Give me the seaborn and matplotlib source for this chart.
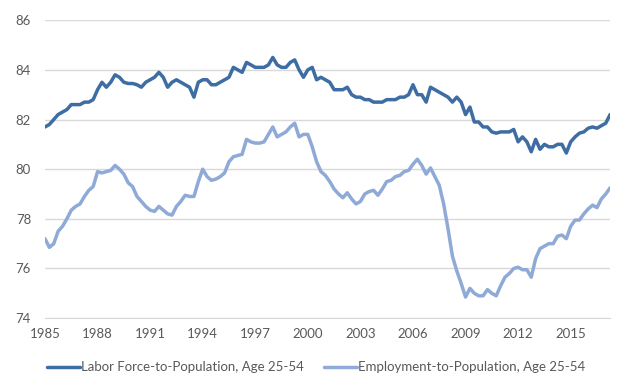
import pandas as pd
import numpy as np
import seaborn as sns
import matplotlib.pyplot as plt

# Quarterly readings, 1985Q1 .. 2017Q2
lfpr = [81.7, 81.8, 82.0, 82.2,
        82.3, 82.4, 82.6, 82.6,
        82.6, 82.7, 82.7, 82.8,
        83.2, 83.5, 83.3, 83.5,
        83.8, 83.7, 83.5, 83.45,
        83.45, 83.4, 83.3, 83.5,
        83.6, 83.7, 83.9, 83.7,
        83.3, 83.5, 83.6, 83.5,
        83.4, 83.3, 82.9, 83.5,
        83.6, 83.6, 83.4, 83.4,
        83.5, 83.6, 83.7, 84.1,
        84.0, 83.9, 84.3, 84.2,
        84.1, 84.1, 84.1, 84.2,
        84.5, 84.2, 84.1, 84.1,
        84.3, 84.4, 84.0, 83.7,
        84.0, 84.1, 83.6, 83.7,
        83.6, 83.5, 83.2, 83.2,
        83.2, 83.3, 83.0, 82.9,
        82.9, 82.8, 82.8, 82.7,
        82.7, 82.7, 82.8, 82.8,
        82.8, 82.9, 82.9, 83.0,
        83.4, 83.0, 83.0, 82.7,
        83.3, 83.2, 83.1, 83.0,
        82.9, 82.7, 82.9, 82.7,
        82.2, 82.5, 81.9, 81.9,
        81.7, 81.7, 81.5, 81.45,
        81.5, 81.5, 81.5, 81.6,
        81.1, 81.3, 81.1, 80.7,
        81.2, 80.8, 81.0, 80.9,
        80.9, 81.0, 81.0, 80.65,
        81.1, 81.3, 81.45, 81.5,
        81.65, 81.7, 81.65, 81.75,
        81.85, 82.2]

epop = [77.2, 76.85, 77.0, 77.5,
        77.7, 78.0, 78.35, 78.5,
        78.6, 78.9, 79.15, 79.3,
        79.9, 79.85, 79.9, 79.95,
        80.15, 80.0, 79.8, 79.45,
        79.3, 78.9, 78.7, 78.5,
        78.35, 78.3, 78.5, 78.35,
        78.2, 78.15, 78.5, 78.7,
        78.95, 78.9, 78.9, 79.5,
        80.0, 79.7, 79.55, 79.6,
        79.7, 79.85, 80.3, 80.5,
        80.55, 80.6, 81.2, 81.1,
        81.05, 81.05, 81.1, 81.4,
        81.7, 81.3, 81.4, 81.5,
        81.7, 81.85, 81.3, 81.4,
        81.4, 80.9, 80.3, 79.9,
        79.75, 79.5, 79.2, 79.0,
        78.85, 79.05, 78.8, 78.6,
        78.7, 79.0, 79.1, 79.15,
        78.95, 79.2, 79.5, 79.55,
        79.7, 79.75, 79.9, 79.95,
        80.2, 80.4, 80.15, 79.8,
        80.05, 79.7, 79.35, 78.6,
        77.6, 76.5, 75.9, 75.4,
        74.85, 75.2, 75.0, 74.9,
        74.9, 75.15, 75.0, 74.9,
        75.3, 75.65, 75.8, 76.0,
        76.05, 75.95, 75.95, 75.65,
        76.4, 76.8, 76.9, 77.0,
        77.0, 77.3, 77.35, 77.2,
        77.7, 77.95, 77.95, 78.2,
        78.4, 78.55, 78.45, 78.8,
        79.0, 79.25]

quarters = pd.period_range('1985Q1', periods=len(lfpr), freq='Q')
years = quarters.year + (quarters.quarter - 1) / 4

lab1 = 'Labor Force-to-Population, Age 25-54'
lab2 = 'Employment-to-Population, Age 25-54'
df = pd.DataFrame({'year': list(years) * 2,
                   'value': lfpr + epop,
                   'series': [lab1] * len(lfpr) + [lab2] * len(epop)})

sns.set_style('white')
plt.rcParams['font.family'] = ['Lato', 'DejaVu Sans']

fig = plt.figure(figsize=(6.4, 3.88), dpi=100)
ax = fig.add_axes([0.0703, 0.180, 0.883, 0.768])

sns.lineplot(data=df, x='year', y='value', hue='series',
             palette={lab1: '#3E6DA3', lab2: '#8FAAD6'},
             linewidth=2.5, ax=ax)

ax.set_xlim(1985, 2017.25)
ax.set_ylim(74, 86)
ax.set_yticks(range(74, 87, 2))
ax.set_xticks(range(1985, 2016, 3))
ax.grid(axis='y', color='#D9D9D9', linewidth=1)
ax.set_axisbelow(True)
for s in ['top', 'right', 'left']:
    ax.spines[s].set_visible(False)
ax.spines['bottom'].set_color('#D9D9D9')
ax.tick_params(axis='x', length=4, color='#D9D9D9', colors='#595959', labelsize=9.5, pad=3)
ax.tick_params(axis='y', length=0, colors='#595959', labelsize=9.5, pad=10)
ax.set_xlabel('')
ax.set_ylabel('')

ax.legend(loc='upper center', bbox_to_anchor=(0.48, -0.105), ncol=2, frameon=False,
          fontsize=9.5, handlelength=2.5, handletextpad=0.1, columnspacing=1.5,
          labelcolor='#595959')

fig.savefig('out.png', dpi=100)
